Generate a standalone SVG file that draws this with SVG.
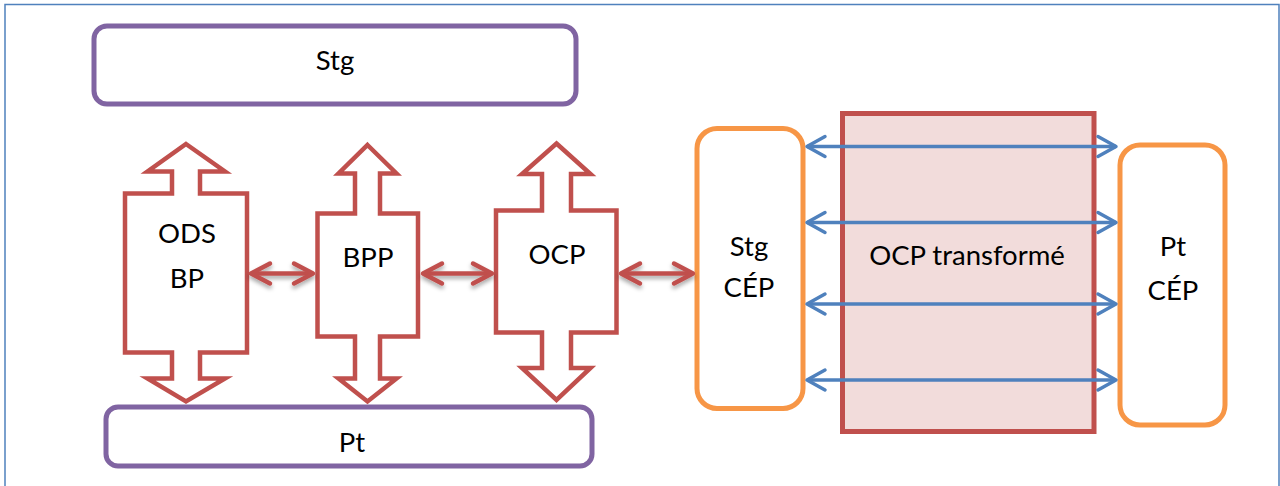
<svg xmlns="http://www.w3.org/2000/svg" width="1280" height="486" viewBox="0 0 1280 486">
<style>
.frame{fill:none;stroke:#4F81BD;stroke-width:1.5}
.purple{fill:#fff;stroke:#8064A2;stroke-width:5}
.orange{fill:#fff;stroke:#F79646;stroke-width:5}
.block{fill:#fff;stroke:#C0504D;stroke-width:4.5;stroke-linejoin:miter}
.trans{fill:#F2DCDB;stroke:#C0504D;stroke-width:5}
.red{fill:none;stroke:#C0504D;stroke-width:4.5;marker-start:url(#rh);marker-end:url(#rh)}
.blue{fill:none;stroke:#4F81BD;stroke-width:3.5;marker-start:url(#bh);marker-end:url(#bh)}
text{font-family:Lato,"Liberation Sans",sans-serif;font-size:27.5px;fill:#000;text-anchor:middle}
</style>
<defs>
<marker id="rh" markerUnits="userSpaceOnUse" viewBox="-24 -14 28 28" markerWidth="28" markerHeight="28" refX="0" refY="0" orient="auto-start-reverse" overflow="visible">
<path d="M-19,-10 L0,0 L-19,10" fill="none" stroke="#C0504D" stroke-width="4.5" stroke-linecap="round" stroke-linejoin="round"/>
</marker>
<marker id="bh" markerUnits="userSpaceOnUse" viewBox="-24 -14 28 28" markerWidth="28" markerHeight="28" refX="0" refY="0" orient="auto-start-reverse" overflow="visible">
<path d="M-18,-10 L0,0 L-18,10" fill="none" stroke="#4F81BD" stroke-width="3.5" stroke-linecap="round" stroke-linejoin="round"/>
</marker>
<filter id="sh" filterUnits="userSpaceOnUse" x="230" y="240" width="490" height="70">
<feDropShadow dx="0" dy="3" stdDeviation="2" flood-color="#000" flood-opacity="0.35"/>
</filter>
</defs>
<rect class="frame" x="5" y="4.5" width="1274" height="500"/>
<g id="stg">
<rect class="purple" x="94" y="26" width="482" height="78" rx="13"/>
<text x="335" y="70">Stg</text>
</g>
<g id="pt">
<rect class="purple" x="106" y="407" width="486" height="59" rx="12"/>
<text x="352" y="452">Pt</text>
</g>
<g id="ods-bp">
<path class="block" d="M186,144 L225,171.5 L200,171.5 L200,193.5 L247,193.5 L247,352.5 L200,352.5 L200,378.5 L225,378.5 L186,401.5 L147.5,378.5 L172,378.5 L172,352.5 L125,352.5 L125,193.5 L172,193.5 L172,171.5 L147.5,171.5 Z"/>
<text x="187" y="243">ODS</text>
<text x="187" y="288">BP</text>
</g>
<g id="bpp">
<path class="block" d="M367.5,145 L396.5,173.5 L380,173.5 L380,213.5 L418,213.5 L418,336.5 L380,336.5 L380,378.5 L396.5,378.5 L367.5,401.5 L338.5,378.5 L355,378.5 L355,336.5 L317.5,336.5 L317.5,213.5 L355,213.5 L355,173.5 L338.5,173.5 Z"/>
<text x="368" y="267">BPP</text>
</g>
<g id="ocp">
<path class="block" d="M556.5,143.5 L590.5,174 L571,174 L571,210.5 L616.5,210.5 L616.5,332.5 L571,332.5 L571,368 L590.5,368 L556.5,400 L522,368 L542,368 L542,332.5 L496,332.5 L496,210.5 L542,210.5 L542,174 L522,174 Z"/>
<text x="557" y="264">OCP</text>
</g>
<g id="stg-cep">
<rect class="orange" x="697" y="128.5" width="106" height="280" rx="20"/>
<text x="749" y="256">Stg</text>
<text x="749" y="297">CÉP</text>
</g>
<g id="ocp-transforme">
<rect class="trans" x="842.5" y="113.5" width="251.5" height="318"/>
<text x="967" y="265">OCP transformé</text>
</g>
<g id="pt-cep">
<rect class="orange" x="1120" y="145" width="105" height="280" rx="20"/>
<text x="1173" y="256">Pt</text>
<text x="1173" y="300">CÉP</text>
</g>
<g id="connectors">
<g filter="url(#sh)">
<line class="red" x1="251" y1="273.5" x2="313" y2="273.5"/>
<line class="red" x1="423" y1="273.5" x2="492" y2="273.5"/>
<line class="red" x1="621" y1="273.5" x2="693" y2="273.5"/>
</g>
<line class="blue" x1="807" y1="146.5" x2="1116" y2="146.5"/>
<line class="blue" x1="807" y1="222.5" x2="1116" y2="222.5"/>
<line class="blue" x1="807" y1="304" x2="1116" y2="304"/>
<line class="blue" x1="807" y1="380" x2="1116" y2="380"/>
</g>
</svg>
